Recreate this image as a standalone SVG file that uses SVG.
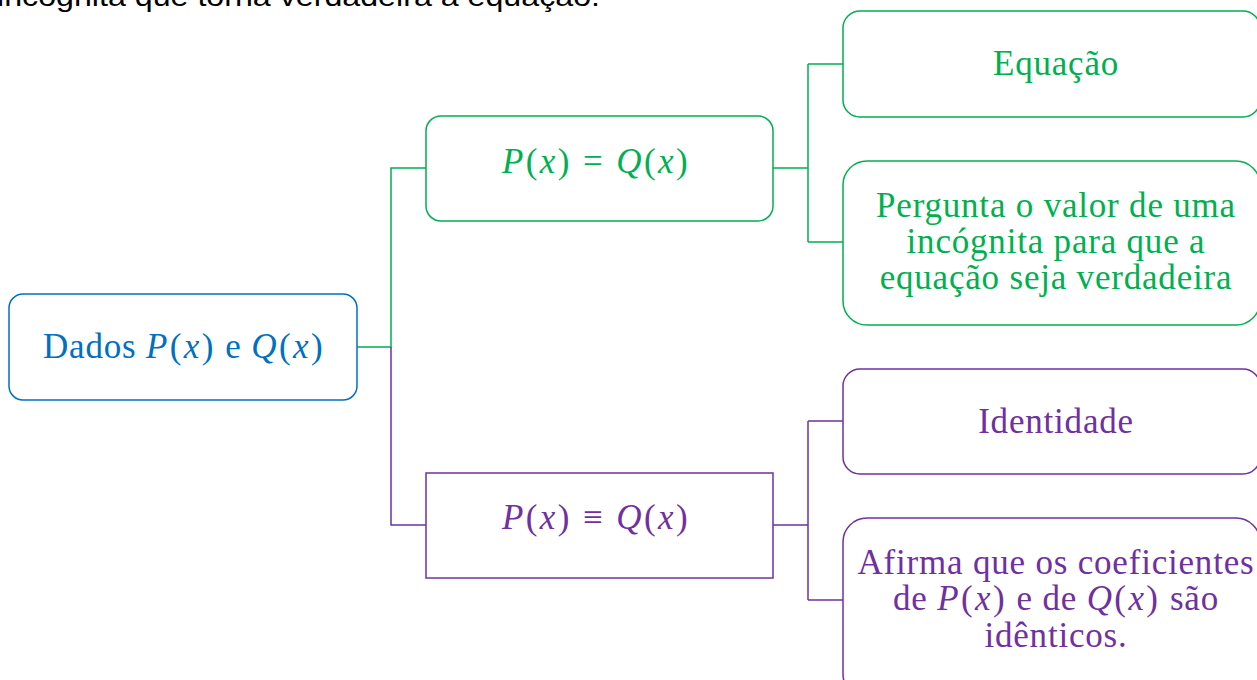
<svg xmlns="http://www.w3.org/2000/svg" width="1257" height="680" viewBox="0 0 1257 680">
<style>
.t{font-family:"Liberation Serif","DejaVu Serif",serif;font-size:35px;text-anchor:middle;letter-spacing:0.8px}
.i{font-style:italic}
.m{letter-spacing:2.4px}
.g{fill:#00B050}.b{fill:#0070C0}.p{fill:#7030A0}
.box{fill:#fff;stroke-width:1.5}
.gs{stroke:#00B050}.bs{stroke:#0070C0}.ps{stroke:#7030A0}
.c{fill:none;stroke-width:1.5}
</style>
<rect width="1257" height="680" fill="#fff"/>
<text x="-3" y="6" font-family="Liberation Sans, Arial, sans-serif" font-size="28" fill="#000" textLength="603" lengthAdjust="spacingAndGlyphs">incógnita que torna verdadeira a equação.</text>
<g id="connectors">
<path class="c gs" d="M357 347 H391 V168 H426"/>
<path class="c ps" d="M391 347 V525 H426"/>
<path class="c gs" d="M773 168 H808 M808 64 V242 M808 64 H843 M808 242 H843"/>
<path class="c ps" d="M773 525 H808 M808 421 V600 M808 421 H843 M808 600 H843"/>
</g>
<g id="root">
<rect class="box bs" x="9" y="294" width="348" height="106" rx="14"/>
<text class="t b" x="184" y="358">Dados <tspan class="m"><tspan class="i">P</tspan>(<tspan class="i">x</tspan>)</tspan> e <tspan class="m"><tspan class="i">Q</tspan>(<tspan class="i">x</tspan>)</tspan></text>
</g>
<g id="equal">
<rect class="box gs" x="426" y="116" width="347" height="105" rx="15"/>
<text class="t g m" x="596" y="173"><tspan class="i">P</tspan>(<tspan class="i">x</tspan>) = <tspan class="i">Q</tspan>(<tspan class="i">x</tspan>)</text>
</g>
<g id="ident">
<rect class="box ps" x="426" y="473" width="347" height="105"/>
<text class="t p m" x="596" y="529"><tspan class="i">P</tspan>(<tspan class="i">x</tspan>) ≡ <tspan class="i">Q</tspan>(<tspan class="i">x</tspan>)</text>
</g>
<g id="equacao">
<rect class="box gs" x="843" y="11" width="417" height="106" rx="17"/>
<text class="t g" x="1056" y="75">Equação</text>
</g>
<g id="pergunta">
<rect class="box gs" x="843" y="161" width="417" height="164" rx="24"/>
<text class="t g" y="217"><tspan x="1056">Pergunta o valor de uma</tspan><tspan x="1056" dy="36">incógnita para que a</tspan><tspan x="1056" dy="36">equação seja verdadeira</tspan></text>
</g>
<g id="identidade">
<rect class="box ps" x="843" y="369" width="417" height="105" rx="17"/>
<text class="t p" x="1056" y="433">Identidade</text>
</g>
<g id="afirma">
<rect class="box ps" x="843" y="518" width="417" height="180" rx="24"/>
<text class="t p" y="574"><tspan x="1056">Afirma que os coeficientes</tspan><tspan x="1056" dy="36">de <tspan class="m"><tspan class="i">P</tspan>(<tspan class="i">x</tspan>)</tspan> e de <tspan class="m"><tspan class="i">Q</tspan>(<tspan class="i">x</tspan>)</tspan> são</tspan><tspan x="1056" dy="37">idênticos.</tspan></text>
</g>
</svg>
